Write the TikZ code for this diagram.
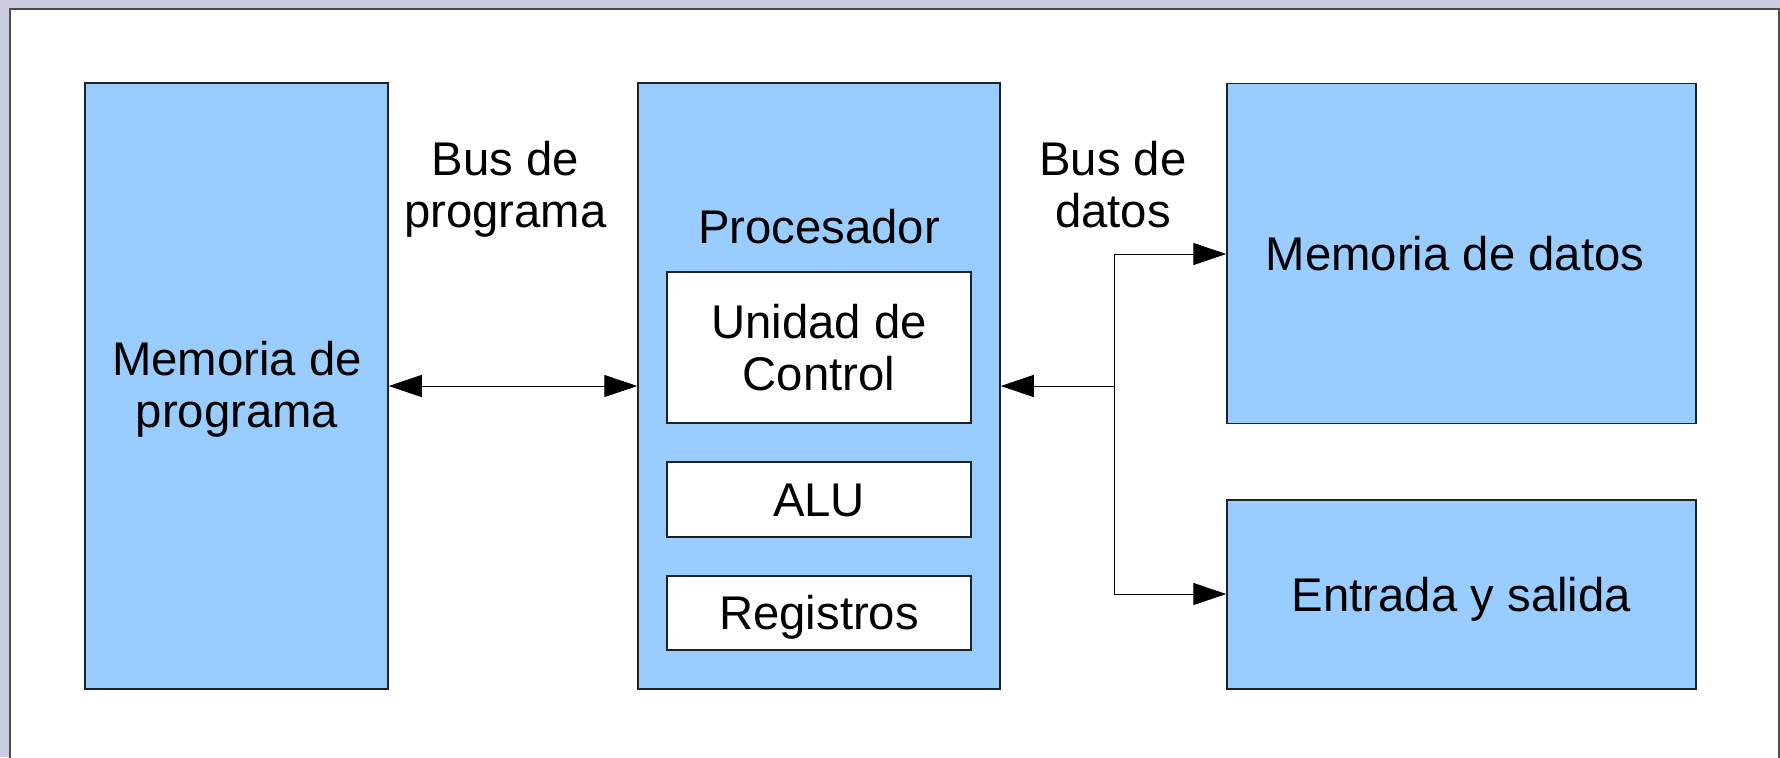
\documentclass[tikz,border=0pt]{standalone}
\usepackage{fontspec}
\setmainfont{Liberation Sans}
\usetikzlibrary{arrows.meta}
\definecolor{boxblue}{HTML}{99CCFF}
\definecolor{pagebg}{HTML}{CCCEE0}
\definecolor{edge}{HTML}{222222}
\begin{document}
\begin{tikzpicture}[x=0.5pt,y=-0.5pt,
  txt/.style={font=\fontsize{23.65pt}{26pt}\selectfont, align=center},
  % single-line labels: centre the capital letters on the node centre
  capline/.style={text height=16.9pt, text depth=0pt},
  block/.style={draw=edge, line width=0.75pt, fill=boxblue, inner sep=0pt, txt},
  unit/.style={draw=edge, line width=0.6pt, fill=white, inner sep=0pt, minimum width=152pt, txt},
  bus/.style={line width=0.5pt, draw=black},
  tip/.style={-{Triangle[length=16.5pt,width=11pt]}},
  bitip/.style={{Triangle[length=16.5pt,width=11pt]}-{Triangle[length=16.5pt,width=11pt]}}]
  % page background and sheet
  \useasboundingbox (0,0) rectangle (1780,757);
  \fill[pagebg] (0,0) rectangle (1780,757);
  \draw[fill=white, draw=edge!80, line width=1pt] (9.5,8.5) rectangle (1779,770);

  % main blocks
  \node[block, minimum width=151.5pt, minimum height=303pt] (mp) at (236.5,386) {};
  \node[txt] (mptext) at (237,389.5) {Memoria de\\programa};
  \node[block, minimum width=181pt, minimum height=303pt] (proc) at (819,386) {};
  \node[txt, capline] (proctitle) at (819,227) {Procesador};
  \node[unit, minimum height=75.5pt] (uc) at (819,347.5) {Unidad de\\Control};
  \node[unit, capline, minimum height=37.5pt] (alu) at (819,499.5) {ALU};
  \node[unit, capline, minimum height=37pt] (reg) at (819,613) {Registros};
  \node[block, capline, minimum width=234.5pt, minimum height=170pt] (md) at (1461.5,253.5) {\kern-6.5pt Memoria de datos};
  \node[block, capline, minimum width=234.5pt, minimum height=94.5pt] (es) at (1461.5,594.5) {Entrada y salida};

  % bus labels
  \node[txt] (busprog) at (505.5,189.5) {Bus de\\programa};
  \node[txt] (busdat) at (1113,184.5) {Bus de\\datos};

  % program bus
  \draw[bus, bitip] (mp.east |- 0,386) -- (proc.west |- 0,386);

  % data bus with branches
  \coordinate (j) at (1114,386);
  \coordinate (jt) at (1114,254);
  \coordinate (jb) at (1114,594);
  \draw[bus, tip] (j) -- (proc.east |- j);
  \draw[bus] (jt) -- (jb);
  \draw[bus, tip] (jt) -- (md.west |- jt);
  \draw[bus, tip] (jb) -- (es.west |- jb);
\end{tikzpicture}
\end{document}
